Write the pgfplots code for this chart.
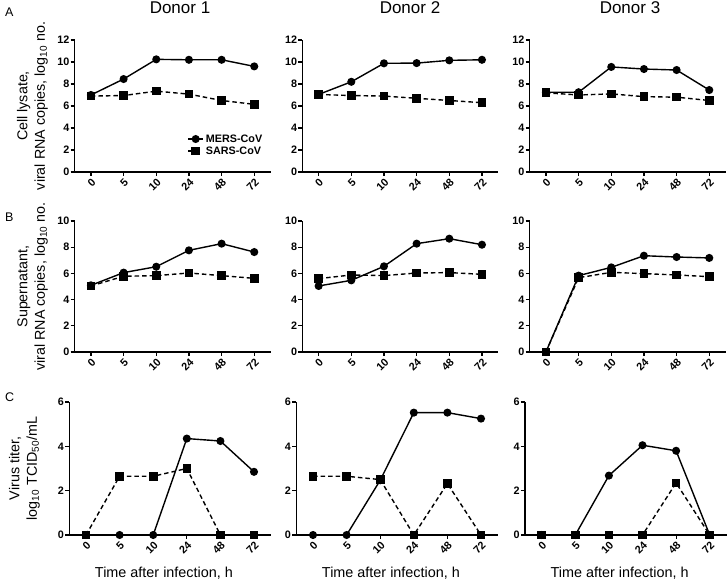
\documentclass[border=0pt]{standalone}
\usepackage{fontspec}
\setmainfont{Liberation Sans}
\usepackage{pgfplots}
\pgfplotsset{compat=1.18}

\pgfplotsset{
  panel/.style={
    scale only axis,
    anchor=south west,
    axis lines*=left,
    axis line style={line width=1.3pt},
    xmin=-0.5, xmax=5.5,
    xtick={0,...,5},
    xticklabels={0,5,10,24,48,72},
    tick align=outside,
    major tick length=4pt,
    tick style={line width=1.2pt, black},
    ymin=0,
    clip=false,
    /pgf/number format/assume math mode=true,
    ticklabel style={font=\fontsize{10.8}{12}\selectfont\bfseries},
    xticklabel style={rotate=45, anchor=north east, inner sep=1pt},
    yticklabel style={inner sep=1pt},
    every axis y label/.style={rotate=90, anchor=south, align=center, inner sep=0pt, font=\fontsize{14.3}{17.5}\selectfont},
    every axis x label/.style={anchor=base, inner sep=0pt, font=\fontsize{14.4}{17}\selectfont},
  },
  rowA/.style={panel, width=196pt, height=132pt, ymax=12, ytick={0,2,...,12},
    ylabel style={at={(axis description cs:-0.136,0.5)}}},
  rowB/.style={panel, width=196pt, height=131pt, ymax=10, ytick={0,2,...,10},
    ylabel style={at={(axis description cs:-0.136,0.5)}}},
  rowC/.style={panel, width=201.6pt, height=133pt, ymax=6, ytick={0,2,4,6},
    ylabel style={at={(axis description cs:-0.145,0.5)}},
    xlabel style={at={(axis description cs:0.47,-0.316)}},
    xlabel={Time after infection, h}},
  mers/.style={black, line width=1.4pt, mark=*, mark size=3.3pt, mark options={solid}},
  sars/.style={black, line width=1.4pt, dash pattern=on 4.5pt off 3pt, mark=square*, mark size=3.6pt, mark options={solid}},
}

\begin{document}
\begin{tikzpicture}
\useasboundingbox (0pt,0pt) rectangle (728pt,583pt);

% titles and panel letters
\node[anchor=base, font=\fontsize{17}{20}\selectfont] at (180pt,569pt) {Donor 1};
\node[anchor=base, font=\fontsize{17}{20}\selectfont] at (410pt,569pt) {Donor 2};
\node[anchor=base, font=\fontsize{17}{20}\selectfont] at (630pt,569pt) {Donor 3};
\node[anchor=base west, inner sep=0pt, font=\fontsize{12.5}{15}\selectfont] at (5pt,566pt) {A};
\node[anchor=base west, inner sep=0pt, font=\fontsize{12.5}{15}\selectfont] at (5pt,361pt) {B};
\node[anchor=base west, inner sep=0pt, font=\fontsize{12.5}{15}\selectfont] at (5pt,181pt) {C};

% ---------- Row A ----------
\begin{axis}[rowA, at={(74.6pt,411pt)},
  ylabel={Cell lysate,\\viral RNA copies, log\textsubscript{10} no.},
  legend cell align=left,
  legend style={draw=none, fill=none, at={(axis cs:2.95,2.45)}, anchor=west,
    font=\fontsize{10.8}{13}\selectfont\bfseries, inner sep=0pt, row sep=-1pt},
  legend image code/.code={\draw[mark repeat=2,mark phase=2] plot coordinates {(0pt,0pt) (7.5pt,0pt) (15pt,0pt)};}]
\addplot[mers] coordinates {(0,7.0) (1,8.45) (2,10.24) (3,10.2) (4,10.2) (5,9.6)};
\addplot[sars] coordinates {(0,6.9) (1,6.95) (2,7.35) (3,7.08) (4,6.5) (5,6.15)};
\legend{MERS-CoV, SARS-CoV}
\end{axis}
\begin{axis}[rowA, at={(302.3pt,411pt)}]
\addplot[mers] coordinates {(0,7.05) (1,8.2) (2,9.88) (3,9.9) (4,10.15) (5,10.2)};
\addplot[sars] coordinates {(0,7.05) (1,6.95) (2,6.9) (3,6.7) (4,6.5) (5,6.3)};
\end{axis}
\begin{axis}[rowA, at={(529.6pt,411pt)}]
\addplot[mers] coordinates {(0,7.25) (1,7.25) (2,9.55) (3,9.36) (4,9.27) (5,7.45)};
\addplot[sars] coordinates {(0,7.2) (1,7.0) (2,7.1) (3,6.85) (4,6.8) (5,6.5)};
\end{axis}

% ---------- Row B ----------
\begin{axis}[rowB, at={(74.6pt,231pt)},
  ylabel={Supernatant,\\viral RNA copies, log\textsubscript{10} no.}]
\addplot[mers] coordinates {(0,5.09) (1,6.06) (2,6.51) (3,7.76) (4,8.27) (5,7.63)};
\addplot[sars] coordinates {(0,5.04) (1,5.78) (2,5.83) (3,6.03) (4,5.83) (5,5.62)};
\end{axis}
\begin{axis}[rowB, at={(302.3pt,231pt)}]
\addplot[mers] coordinates {(0,5.04) (1,5.47) (2,6.54) (3,8.27) (4,8.65) (5,8.19)};
\addplot[sars] coordinates {(0,5.6) (1,5.88) (2,5.83) (3,6.03) (4,6.06) (5,5.93)};
\end{axis}
\begin{axis}[rowB, at={(529.6pt,231pt)}]
\addplot[mers] coordinates {(0,0) (1,5.83) (2,6.46) (3,7.35) (4,7.25) (5,7.18)};
\addplot[sars] coordinates {(0,0) (1,5.67) (2,6.08) (3,5.98) (4,5.88) (5,5.75)};
\end{axis}

% ---------- Row C ----------
\begin{axis}[rowC, at={(69.2pt,48pt)},
  ylabel={Virus titer,\\log\textsubscript{10} TCID\textsubscript{50}/mL}]
\addplot[mers] coordinates {(0,0) (1,0) (2,0) (3,4.35) (4,4.24) (5,2.85)};
\addplot[sars] coordinates {(0,0) (1,2.65) (2,2.65) (3,3.0) (4,0) (5,0)};
\end{axis}
\begin{axis}[rowC, at={(296.2pt,48pt)}]
\addplot[mers] coordinates {(0,0) (1,0) (2,2.47) (3,5.52) (4,5.52) (5,5.25)};
\addplot[sars] coordinates {(0,2.65) (1,2.65) (2,2.5) (3,0) (4,2.32) (5,0)};
\end{axis}
\begin{axis}[rowC, at={(524.9pt,48pt)}]
\addplot[mers] coordinates {(0,0) (1,0) (2,2.68) (3,4.05) (4,3.8) (5,0)};
\addplot[sars] coordinates {(0,0) (1,0) (2,0) (3,0) (4,2.35) (5,0)};
\end{axis}
\end{tikzpicture}
\end{document}
